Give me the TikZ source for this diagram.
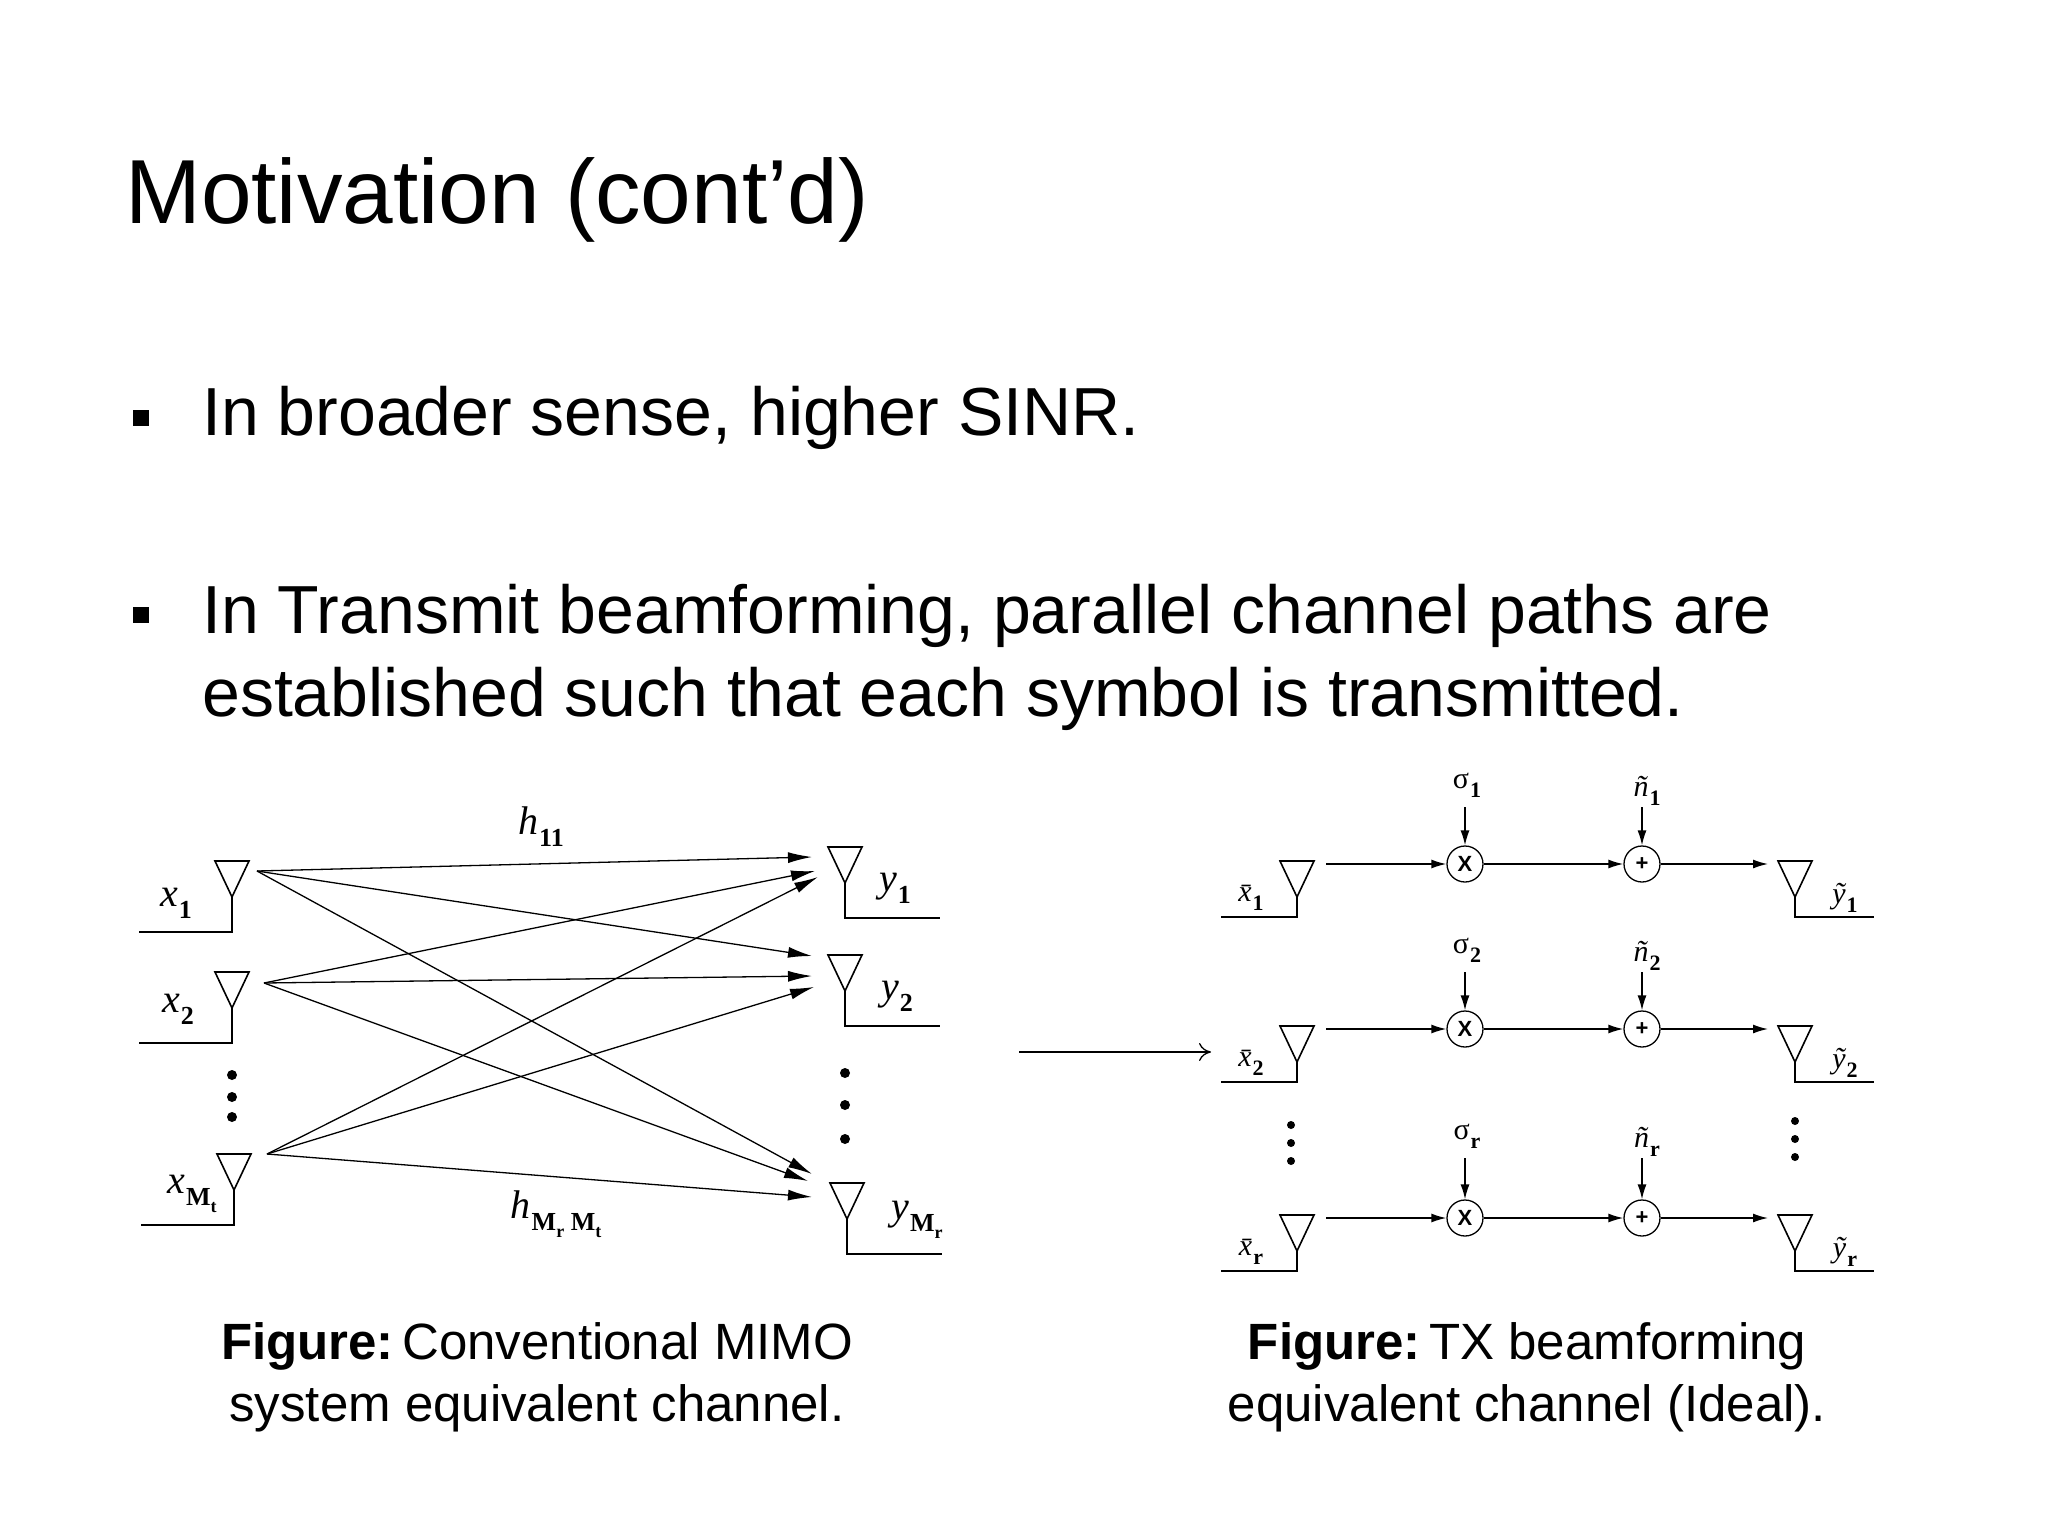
\documentclass[tikz,border=0pt]{standalone}
\usepackage{fontspec}
\setmainfont{Liberation Sans}
\newfontfamily\lserif{Liberation Serif}
\usetikzlibrary{arrows.meta}
\newcommand\lb[4]{{\fontsize{#1}{#1}\selectfont\lserif\itshape #3\kern1pt\raisebox{-0.3em}{\fontsize{#2}{#2}\selectfont\upshape\bfseries #4}}}
\newcommand\smt[2]{M\raisebox{-0.25em}{\fontsize{#1}{#1}\selectfont #2}}
\begin{document}
\begin{tikzpicture}[x=1pt,y=-1pt,
  ln/.style={line width=1.6pt},
  arr/.style={line width=1.3pt,-{Latex[length=24pt,width=11pt]}},
  sarr/.style={line width=1.5pt,-{Latex[length=15pt,width=9pt]}},
  mth/.style={inner sep=0pt},
  rm/.style={inner sep=0pt},
  op/.style={circle,draw,line width=1.3pt,minimum size=36pt,inner sep=0pt,font=\fontsize{22}{24}\selectfont\bfseries},
  dot/.style={circle,fill,inner sep=0pt,minimum size=10pt},
  txant/.pic={\draw[ln] (-17,0)--(17,0)--(0,36)--cycle; \draw[ln] (0,36)--(0,71)--(-93,71);},
  rxant/.pic={\draw[ln] (-17,0)--(17,0)--(0,36)--cycle; \draw[ln] (0,36)--(0,71)--(95,71);},
  txant2/.pic={\draw[ln] (-17,0)--(17,0)--(0,36)--cycle; \draw[ln] (0,36)--(0,56)--(-76,56);},
  rxant2/.pic={\draw[ln] (-17,0)--(17,0)--(0,36)--cycle; \draw[ln] (0,36)--(0,56)--(79,56);}]
\useasboundingbox (0,0) rectangle (2048,1536);
% title and bullets
\node[anchor=base west,inner sep=0pt,font=\fontsize{91}{110}\selectfont] (title) at (125,223) {Motivation (cont’d)};
\node[fill,minimum size=16pt,inner sep=0pt] (b1) at (141,418) {};
\node[anchor=base west,inner sep=0pt,font=\fontsize{68}{82}\selectfont] (t1) at (202,435) {In broader sense, higher SINR.};
\node[fill,minimum size=16pt,inner sep=0pt] (b2) at (141,615) {};
\node[anchor=base west,inner sep=0pt,font=\fontsize{68}{82}\selectfont] (t2a) at (202,633) {In Transmit beamforming, parallel channel paths are};
\node[anchor=base west,inner sep=0pt,font=\fontsize{68}{82}\selectfont] (t2b) at (202,716) {established such that each symbol is transmitted.};
% captions
\node[anchor=base,inner sep=0pt,font=\fontsize{51}{62}\selectfont] (c1a) at (537,1359) {\textbf{Figure:}\,Conventional MIMO};
\node[anchor=base,inner sep=0pt,font=\fontsize{51}{62}\selectfont] (c1b) at (537,1421) {system equivalent channel.};
\node[anchor=base,inner sep=0pt,font=\fontsize{51}{62}\selectfont] (c2a) at (1527,1359) {\textbf{Figure:}\,TX beamforming};
\node[anchor=base,inner sep=0pt,font=\fontsize{51}{62}\selectfont] (c2b) at (1527,1421) {equivalent channel (Ideal).};
\begin{scope}[shift={(0,-7)}]
% left figure antennas
\pic at (232,868) {txant};
\pic at (232,979) {txant};
\pic at (234,1161) {txant};
\pic at (845,854) {rxant};
\pic at (845,962) {rxant};
\pic at (847,1190) {rxant};
\node[mth] (lx1) at (176,910) {\lb{40}{26}{x}{1}};
\node[mth] (lx2) at (178,1016) {\lb{40}{26}{x}{2}};
\node[mth] (lx3) at (192,1201) {\lb{40}{26}{x}{\smt{18}{t}}};
\node[mth] (ly1) at (895,895) {\lb{40}{26}{y}{1}};
\node[mth] (ly2) at (897,1003) {\lb{40}{26}{y}{2}};
\node[mth] (ly3) at (917,1227) {\lb{40}{26}{y}{\smt{18}{r}}};
\node[mth] (h11) at (541,834) {\lb{40}{26}{h}{11}};
\node[mth] (hMM) at (556,1221) {\lb{40}{26}{h}{\smt{18}{r} \smt{18}{t}}};
\foreach \y [count=\i] in {1082,1104,1124} \node[dot] (ld\i) at (232,\y) {};
\foreach \y [count=\i] in {1080,1112,1146} \node[dot] (rd\i) at (845,\y) {};
\coordinate (s1) at (257,878); \coordinate (s2) at (264,990); \coordinate (s3) at (267,1161);
\coordinate (e11) at (812,864); \coordinate (e12) at (812,963); \coordinate (e13) at (812,1181);
\coordinate (e21) at (815,878); \coordinate (e22) at (812,983); \coordinate (e23) at (808,1188);
\coordinate (e31) at (818,884); \coordinate (e32) at (814,994); \coordinate (e33) at (812,1204);
\foreach \i in {1,2,3}{\foreach \j in {1,2,3}{\draw[arr] (s\i) -- (e\i\j);}}
\end{scope}
% middle arrow
\coordinate (ma) at (1019,1052); \coordinate (mb) at (1211,1052);
\draw[line width=1.3pt,-{To[length=12pt,width=18pt]}] (ma) -- (mb);
% right figure
\begin{scope}[shift={(-13,-7)}]
\foreach \r/\y/\lab/\top in {1/871/1/814, 2/1036/2/979, 3/1225/r/1165}{
  \pic at (1310,\y-3) {txant2};
  \pic at (1808,\y-3) {rxant2};
  \node[op] (m\r) at (1478,\y) {X};
  \node[op] (a\r) at (1655,\y) {+};
  \coordinate (in\r) at (1339,\y);
  \coordinate (out\r) at (1781,\y);
  \coordinate (sg\r) at (1478,\top);
  \coordinate (ng\r) at (1655,\top);
  \draw[sarr] (in\r) -- (m\r);
  \draw[sarr] (m\r) -- (a\r);
  \draw[sarr] (a\r) -- (out\r);
  \draw[sarr] (sg\r) -- (m\r);
  \draw[sarr] (ng\r) -- (a\r);
  \node[rm] (xl\r) at (1264,\y+34) {\lb{30}{22}{x̄}{\lab}};
  \node[rm] (yl\r) at (1858,\y+34) {\lb{30}{22}{ỹ}{\lab}};
  \node[rm] (sl\r) at (1480,\top-22) {\lb{30}{22}{\upshape σ}{\lab}};
  \node[rm] (nl\r) at (1660,\top-16) {\lb{30}{22}{ñ}{\lab}};
}
\foreach \y [count=\i] in {1132,1150,1168} \node[dot,minimum size=8pt] (rld\i) at (1304,\y) {};
\foreach \y [count=\i] in {1128,1146,1164} \node[dot,minimum size=8pt] (rrd\i) at (1808,\y) {};
\end{scope}
\end{tikzpicture}
\end{document}
